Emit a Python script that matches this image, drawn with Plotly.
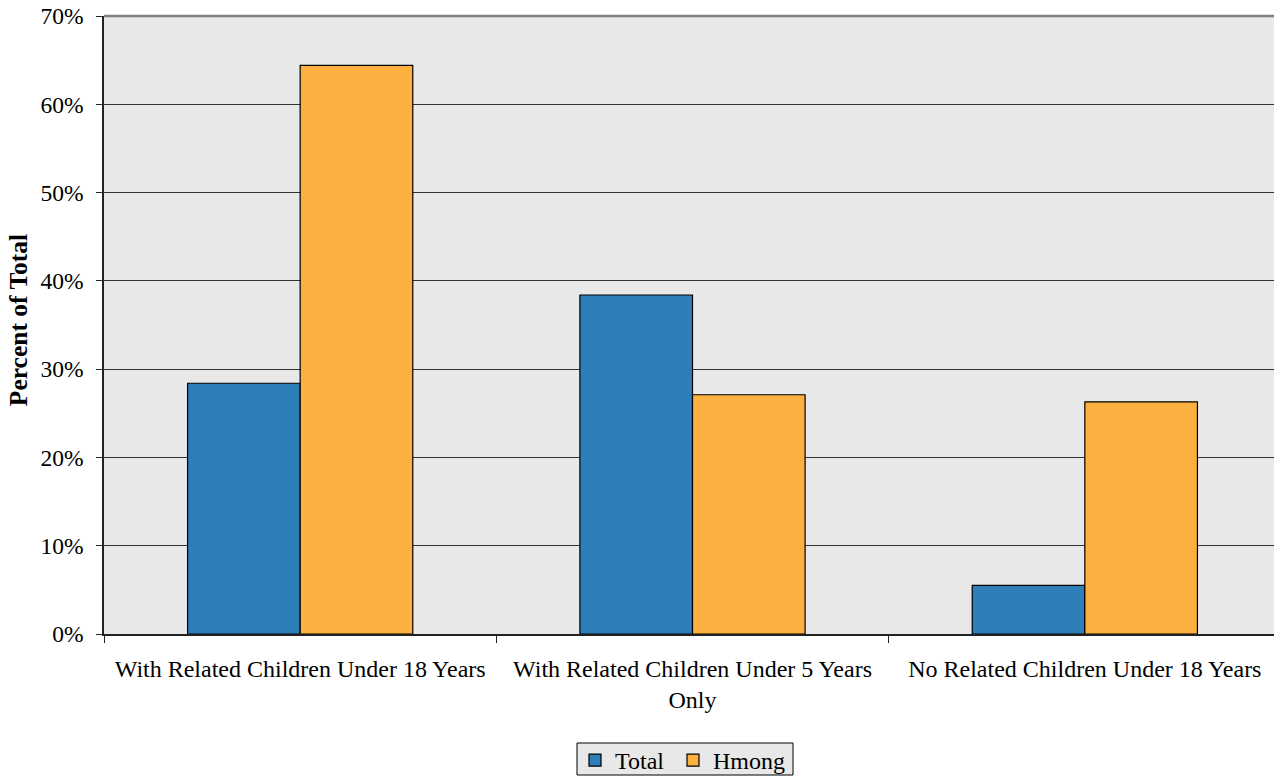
import plotly.graph_objects as go

categories = ["With Related Children Under 18 Years",
              "With Related Children Under 5 Years<br>Only",
              "No Related Children Under 18 Years"]
total = [28.4, 38.4, 5.5]
hmong = [64.4, 27.1, 26.3]
y_ticks = [0, 10, 20, 30, 40, 50, 60, 70]
y_tick_labels = [f"{v}%" for v in y_ticks]

FONT = "Liberation Serif, Times New Roman, serif"

fig = go.Figure()
fig.add_trace(go.Bar(name="Total", x=categories, y=total, legend="legend",
                     marker=dict(color="#2e7eb8", line=dict(color="#000000", width=1.2))))
fig.add_trace(go.Bar(name="Hmong", x=categories, y=hmong, legend="legend2",
                     marker=dict(color="#fbb040", line=dict(color="#000000", width=1.2))))

legend_common = dict(orientation="h", xref="container", yref="container",
                     xanchor="left", y=1 - 752.5 / 777, yanchor="middle",
                     bgcolor="rgba(0,0,0,0)", borderwidth=0,
                     font=dict(size=24, family=FONT, color="#000000"))

fig.update_layout(
    width=1282, height=777,
    margin=dict(l=96, r=9, t=8, b=151),
    paper_bgcolor="white", plot_bgcolor="#e8e8e8",
    barmode="group", bargap=0.426, bargroupgap=0,
    font=dict(family=FONT, size=23, color="#000000"),
    legend=dict(x=567 / 1282, **legend_common),
    legend2=dict(x=665 / 1282, **legend_common),
    showlegend=True,
)
fig.update_xaxes(
    type="category", showgrid=False, showline=True, linecolor="#222222", linewidth=1.5,
    ticks="outside", tickson="boundaries", ticklen=7, tickcolor="#222222",
    tickfont=dict(size=24, family=FONT), ticklabelstandoff=12, automargin=False,
)
fig.update_yaxes(
    range=[0, 70], tickvals=y_ticks, ticktext=y_tick_labels,
    showgrid=True, gridcolor="#333333", gridwidth=1,
    showline=True, linecolor="#222222", linewidth=1.5,
    ticks="outside", ticklen=6, tickcolor="#222222",
    tickfont=dict(size=23.5, family=FONT), ticklabelstandoff=8, zeroline=False,
    ticklabeloverflow="allow", automargin=False,
)
fig.add_annotation(text="<b>Percent of Total</b>", textangle=-90,
                   xref="paper", yref="paper", x=-85.5 / 1177, y=0.507,
                   xanchor="center", yanchor="middle", showarrow=False,
                   font=dict(size=25.5, family=FONT, color="#000000"))
fig.add_shape(type="line", xref="paper", yref="paper", x0=0, x1=1, y0=1, y1=1,
              line=dict(color="#808080", width=2.5), layer="above")
fig.add_shape(type="line", xref="paper", yref="paper", x0=1, x1=1, y0=0, y1=1,
              line=dict(color="#808080", width=2.5), layer="above")
# legend frame
fig.add_shape(type="rect", xref="paper", yref="paper",
              x0=(569 - 96) / 1177, x1=(785 - 96) / 1177,
              y0=-(735 - 626) / 618, y1=-(767 - 626) / 618,
              line=dict(color="#000000", width=1), fillcolor="#e8e8e8", layer="below")
fig.write_html("out.html")
